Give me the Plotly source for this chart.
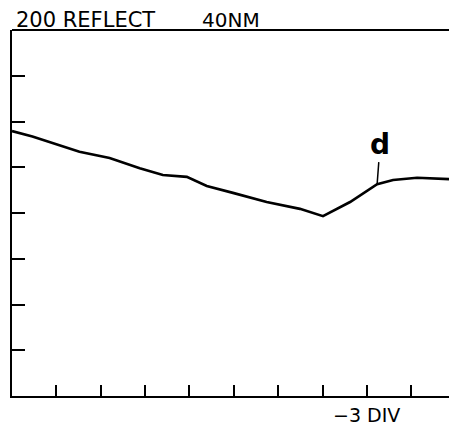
import plotly.graph_objects as go

# Trace (x and y in screen divisions)
x_div = [0.0, 0.46, 1.52, 2.20, 2.88, 3.40, 3.94, 4.39, 4.98, 5.74, 6.49, 7.01, 7.62, 8.23, 8.59, 9.13, 9.85]
y_div = [5.79, 5.67, 5.34, 5.20, 4.98, 4.83, 4.79, 4.59, 4.44, 4.24, 4.09, 3.93, 4.24, 4.63, 4.72, 4.77, 4.74]

x_ticks = [1, 2, 3, 4, 5, 6, 7, 8, 9]
y_ticks = [1, 2, 3, 4, 5, 6, 7]

header_left = "200 REFLECT"
header_right = "40NM"
footer = "\u22123 DIV"
marker_label = "d"
marker_x = 8.23
marker_y = 4.63

FONT = "DejaVu Sans"

fig = go.Figure()
fig.add_trace(go.Scatter(x=x_div, y=y_div, mode="lines",
                         line=dict(color="black", width=2.6), hoverinfo="skip"))

fig.update_layout(
    width=449, height=426,
    margin=dict(l=12, r=0, t=30, b=30),
    paper_bgcolor="white", plot_bgcolor="white",
    showlegend=False,
    xaxis=dict(range=[0, 9.85], showgrid=False, zeroline=False,
               showline=True, linecolor="black", linewidth=2,
               ticks="inside", ticklen=11, tickwidth=1.6, tickcolor="black",
               tickvals=x_ticks, showticklabels=False, fixedrange=True),
    yaxis=dict(range=[0, 8], showgrid=False, zeroline=False,
               showline=True, linecolor="black", linewidth=2,
               ticks="inside", ticklen=13, tickwidth=1.6, tickcolor="black",
               tickvals=y_ticks, showticklabels=False, fixedrange=True),
    shapes=[dict(type="line", xref="paper", yref="paper", x0=0, x1=1, y0=1, y1=1,
                 line=dict(color="black", width=2))],
    annotations=[
        dict(text=header_left, xref="paper", yref="paper", x=0.004, y=0.99,
             xanchor="left", yanchor="bottom", showarrow=False,
             font=dict(family=FONT, size=21, color="black")),
        dict(text=header_right, xref="paper", yref="paper", x=0.431, y=0.99,
             xanchor="left", yanchor="bottom", showarrow=False,
             font=dict(family=FONT, size=20, color="black")),
        dict(text=footer, xref="paper", yref="paper", x=0.73, y=-0.016,
             xanchor="left", yanchor="top", showarrow=False,
             font=dict(family=FONT, size=19, color="black")),
        dict(text="<b>" + marker_label + "</b>", x=marker_x, y=marker_y, xref="x", yref="y",
             showarrow=True, arrowhead=0, arrowwidth=1.5, arrowcolor="black",
             ax=3, ay=-40, font=dict(family=FONT, size=28, color="black")),
    ],
)

fig.write_html("out.html")
